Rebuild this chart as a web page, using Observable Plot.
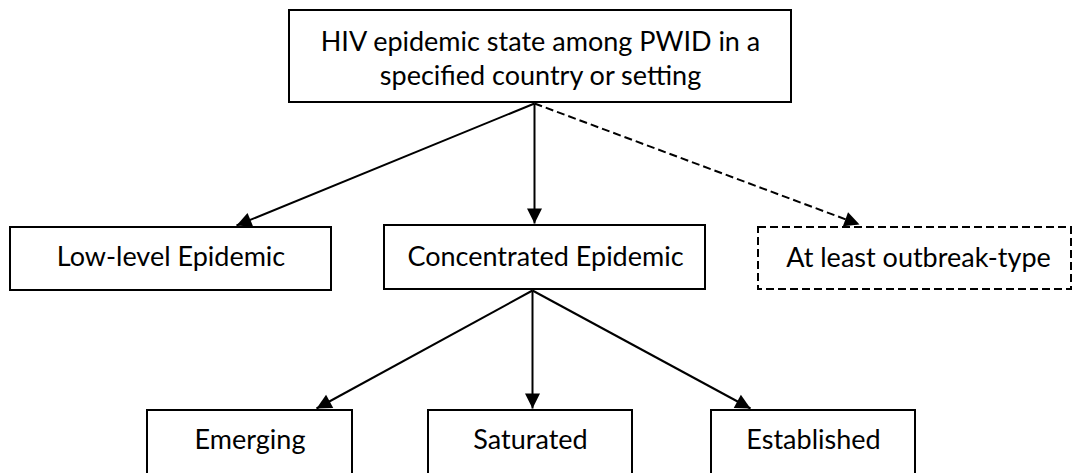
<!DOCTYPE html>
<html>
<head>
<meta charset="utf-8">
<script src="https://cdn.jsdelivr.net/npm/d3@7"></script>
<script src="https://cdn.jsdelivr.net/npm/@observablehq/plot@0.6"></script>
<style>
  html, body { margin: 0; padding: 0; background: white; }
</style>
</head>
<body>
<div id="chart"></div>
<script>
// ---- Data: nodes and edges of the flow diagram ----
const nodeLabels = [
  "HIV epidemic state among PWID in a\nspecified country or setting",
  "Low-level Epidemic",
  "Concentrated Epidemic",
  "At least outbreak-type",
  "Emerging",
  "Saturated",
  "Established"
];
const nodeDashed = [false, false, false, true, false, false, false];
const edgeFrom = [0, 0, 0, 2, 2, 2];
const edgeTo = [1, 2, 3, 4, 5, 6];
const edgeDashed = [false, false, true, false, false, false];

// ---- Layout (pixel coordinates of the diagram) ----
const boxLeft   = [289, 10, 384, 758, 147, 428, 711];
const boxRight  = [791, 331, 705, 1071, 352, 632, 915];
const boxTop    = [10, 227, 225, 227, 410, 410, 410];
const boxBottom = [102, 290, 289, 289, 480, 480, 480];
const labelX    = [540, 170.5, 545, 918, 249.5, 530, 813];
const labelY    = [57, 255, 255, 256, 438, 438, 438];
const edgeStart = [[534, 103], [534, 103], [534, 103], [532, 290], [532, 290], [532, 290]];
const edgeTip   = [[236, 225], [534, 223], [859, 224], [316, 408], [532, 408], [750, 408]];

const nodes = nodeLabels.map((label, i) => ({
  label, dashed: nodeDashed[i],
  x1: boxLeft[i], x2: boxRight[i], y1: boxTop[i], y2: boxBottom[i],
  lx: labelX[i], ly: labelY[i]
}));
const edges = edgeFrom.map((f, i) => {
  const [sx, sy] = edgeStart[i];
  const [tx, ty] = edgeTip[i];
  return {
    from: nodeLabels[f], to: nodeLabels[edgeTo[i]], dashed: edgeDashed[i],
    sx, sy, tx, ty,
    angle: Math.atan2(ty - sy, tx - sx) * 180 / Math.PI
  };
});

// filled triangular arrowhead with its tip at the origin, pointing along +x
const arrowHead = {
  draw(context) {
    context.moveTo(0, 0);
    context.lineTo(-15, -7.5);
    context.lineTo(-15, 7.5);
    context.closePath();
  }
};

const font = "Lato, 'Open Sans', sans-serif";

const chart = Plot.plot({
  width: 1073,
  height: 473,
  margin: 0,
  x: {domain: [0, 1073], range: [0, 1073], axis: null},
  y: {domain: [0, 473], range: [0, 473], axis: null},
  marks: [
    Plot.link(edges.filter(d => !d.dashed), {
      x1: "sx", y1: "sy", x2: "tx", y2: "ty", stroke: "black", strokeWidth: 2
    }),
    Plot.link(edges.filter(d => d.dashed), {
      x1: "sx", y1: "sy", x2: "tx", y2: "ty", stroke: "black", strokeWidth: 2,
      strokeDasharray: "8,4"
    }),
    Plot.rect(nodes.filter(d => !d.dashed), {
      x1: "x1", x2: "x2", y1: "y1", y2: "y2",
      fill: "white", stroke: "black", strokeWidth: 2
    }),
    Plot.rect(nodes.filter(d => d.dashed), {
      x1: "x1", x2: "x2", y1: "y1", y2: "y2",
      fill: "white", stroke: "black", strokeWidth: 2, strokeDasharray: "8,4"
    }),
    Plot.dot(edges, {
      x: "tx", y: "ty", rotate: "angle", symbol: arrowHead,
      fill: "black", stroke: "none", r: 5
    }),
    Plot.text(nodes, {
      x: "lx", y: "ly", text: "label",
      fontSize: 27, fontFamily: font, fill: "black",
      lineAnchor: "middle", lineHeight: 1.26
    })
  ]
});
document.getElementById("chart").appendChild(chart);
</script>
</body>
</html>
